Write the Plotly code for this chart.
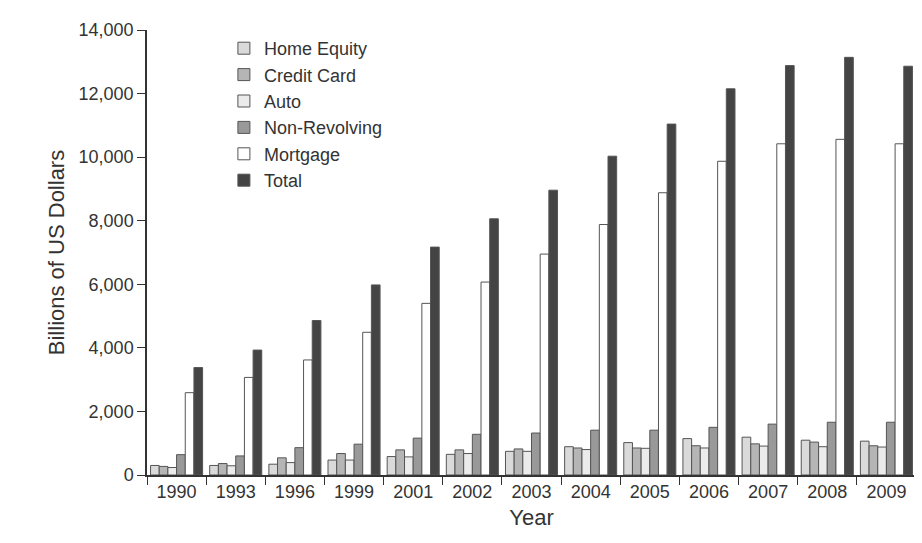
import plotly.graph_objects as go

years = ["1990","1993","1996","1999","2001","2002","2003","2004","2005","2006","2007","2008","2009"]
home_equity = [300,300,340,470,580,650,745,890,1020,1145,1190,1095,1065]
credit_card = [270,360,540,675,790,790,820,850,850,920,980,1035,920]
auto = [235,290,390,470,570,675,745,800,840,850,910,890,880]
non_revolving = [640,600,860,970,1160,1280,1320,1410,1410,1500,1600,1660,1660]
mortgage = [2590,3070,3620,4490,5400,6070,6950,7880,8880,9870,10420,10560,10420]
total = [3380,3930,4860,5980,7170,8060,8960,10030,11040,12150,12880,13140,12860]

series = [("Home Equity", home_equity, "#dadada"),
          ("Credit Card", credit_card, "#b5b5b5"),
          ("Auto", auto, "#ebebeb"),
          ("Non-Revolving", non_revolving, "#999999"),
          ("Mortgage", mortgage, "#ffffff"),
          ("Total", total, "#444444")]

fig = go.Figure()
for name, vals, col in series:
    fig.add_bar(x=years, y=vals, name=name, marker=dict(color=col, line=dict(color="#555555", width=1)))

fig.update_layout(
    width=922, height=543, barmode="group", bargap=0.12, bargroupgap=0,
    plot_bgcolor="white", paper_bgcolor="white",
    font=dict(family="Liberation Sans, Arial", size=18, color="#333333"),
    margin=dict(l=139, r=14, t=19, b=76),
    legend=dict(x=0.1, y=1.0, xanchor="left", yanchor="top", font=dict(size=18),
                bgcolor="rgba(0,0,0,0)", tracegroupgap=0),
    xaxis=dict(title=dict(text="Year", standoff=8), type="category", tickson="boundaries",
               tickfont=dict(size=18),
               ticks="outside", ticklen=8, tickcolor="#333", showline=True, linecolor="#333", linewidth=1.5),
    yaxis=dict(title=dict(text="Billions of US Dollars", standoff=8), range=[0,14000], dtick=2000,
               tickfont=dict(size=18),
               tickformat=",", ticks="outside", ticklen=8, tickcolor="#333", showline=True,
               linecolor="#333", linewidth=1.5, showgrid=False, zeroline=False),
)
fig.write_html("out.html")
